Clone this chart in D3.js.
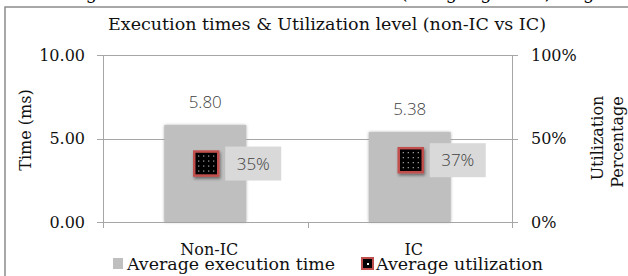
<!DOCTYPE html>
<html>
<head>
<meta charset="utf-8">
<script src="https://cdn.jsdelivr.net/npm/d3@7"></script>
<style>
  body { margin: 0; background: #fff; }
  svg { display: block; }
</style>
</head>
<body>
<svg id="chart" width="628" height="276"></svg>
<script>
var categories = ["Non-IC", "IC"];
var execTimes = [5.80, 5.38];
var utilization = [0.35, 0.37];
var timeTicks = [0, 5, 10];
var pctTicks = [0, 0.5, 1];

var svg = d3.select("#chart"),
    plotLeft = 103, plotRight = 512, plotTop = 55, plotBottom = 222;

var serif = "'DejaVu Serif', 'Liberation Serif', serif";
var sans = "'Open Sans', 'DejaVu Sans', sans-serif";

var defs = svg.append("defs");
var blur = defs.append("filter").attr("id", "barShadow")
    .attr("x", "-10%").attr("y", "-10%").attr("width", "120%").attr("height", "120%");
blur.append("feDropShadow").attr("dx", 0).attr("dy", 0).attr("stdDeviation", 1.5)
    .attr("flood-color", "#999").attr("flood-opacity", 0.8);
var mshadow = defs.append("filter").attr("id", "markShadow")
    .attr("x", "-30%").attr("y", "-30%").attr("width", "170%").attr("height", "170%");
mshadow.append("feDropShadow").attr("dx", 1).attr("dy", 2).attr("stdDeviation", 1.8)
    .attr("flood-color", "#000").attr("flood-opacity", 0.45);
var pat = defs.append("pattern").attr("id", "dots").attr("patternUnits", "userSpaceOnUse")
    .attr("width", 5).attr("height", 5);
pat.append("rect").attr("width", 5).attr("height", 5).attr("fill", "#000");
pat.append("rect").attr("x", 2).attr("y", 2).attr("width", 1).attr("height", 1).attr("fill", "#fff");

// caption line from the page above (cut off, only descenders show)
svg.append("text").attr("x", 314).attr("y", -1).attr("text-anchor", "middle")
    .style("font-family", serif).style("font-size", "18px").attr("fill", "#000")
    .text("Figure 4. Average execution times and utilization (using big tasks, single thread)");

// frame
svg.append("rect").attr("x", 5).attr("y", 7).attr("width", 640).attr("height", 290)
    .attr("fill", "none").attr("stroke", "#8c8c8c").attr("stroke-width", 1.5);

var x = d3.scaleBand().domain(categories).range([plotLeft, plotRight])
    .paddingInner(0.6).paddingOuter(0.3);
var y = d3.scaleLinear().domain([0, 10]).range([plotBottom, plotTop]);
var y2 = d3.scaleLinear().domain([0, 1]).range([plotBottom, plotTop]);

var lineColor = "#a6a6a6";

// gridlines
svg.append("g").selectAll("line").data(timeTicks).join("line")
    .attr("x1", plotLeft - 6).attr("x2", plotRight + 6)
    .attr("y1", function(d) { return Math.round(y(d)) + 0.5; })
    .attr("y2", function(d) { return Math.round(y(d)) + 0.5; })
    .attr("stroke", lineColor);

// left axis
var gl = svg.append("g").attr("transform", "translate(" + plotLeft + ",0)")
    .call(d3.axisLeft(y).tickValues(timeTicks).tickFormat(d3.format(".2f")).tickSize(0).tickPadding(18));
gl.select(".domain").remove();
gl.selectAll("text").style("font-family", serif).style("font-size", "16px").attr("fill", "#111");

// right axis
var gr = svg.append("g").attr("transform", "translate(" + plotRight + ",0)")
    .call(d3.axisRight(y2).tickValues(pctTicks).tickFormat(d3.format(".0%")).tickSize(0).tickPadding(19));
gr.select(".domain").remove();
gr.selectAll("text").style("font-family", serif).style("font-size", "16px").attr("fill", "#111");

// vertical axis lines + category separators
svg.append("g").selectAll("line").data([plotLeft, (plotLeft + plotRight) / 2, plotRight]).join("line")
    .attr("x1", function(d) { return Math.round(d) + 0.5; })
    .attr("x2", function(d) { return Math.round(d) + 0.5; })
    .attr("y1", function(d, i) { return i == 1 ? plotBottom : plotTop; })
    .attr("y2", plotBottom + 6)
    .attr("stroke", lineColor);

// bars
svg.append("g").selectAll("rect").data(execTimes).join("rect")
    .attr("x", function(d, i) { return x(categories[i]); })
    .attr("y", function(d) { return y(d); })
    .attr("width", x.bandwidth())
    .attr("height", function(d) { return y(0) - y(d); })
    .attr("fill", "#bfbfbf")
    .attr("filter", "url(#barShadow)");

// bar value labels
svg.append("g").selectAll("text").data(execTimes).join("text")
    .attr("x", function(d, i) { return x(categories[i]) + x.bandwidth() / 2; })
    .attr("y", function(d) { return y(d) - 17; })
    .attr("text-anchor", "middle")
    .style("font-family", sans).style("font-size", "17px").style("font-weight", 300)
    .attr("fill", "#404040")
    .text(function(d) { return d.toFixed(2); });

// utilization markers
var ms = 24;
var mk = svg.append("g").selectAll("g").data(utilization).join("g")
    .attr("transform", function(d, i) {
      return "translate(" + (x(categories[i]) + x.bandwidth() / 2 + 1) + "," + y2(d) + ")";
    });
mk.append("rect")
    .attr("x", -ms / 2).attr("y", -ms / 2).attr("width", ms).attr("height", ms)
    .attr("fill", "url(#dots)").attr("stroke", "#c0504d").attr("stroke-width", 2.5)
    .attr("filter", "url(#markShadow)");
mk.append("rect")
    .attr("x", 19).attr("y", -17).attr("width", 56).attr("height", 34)
    .attr("fill", "#d9d9d9");
mk.append("text")
    .attr("x", 47).attr("y", 0).attr("dy", "0.36em")
    .attr("text-anchor", "middle")
    .style("font-family", sans).style("font-size", "17px").style("font-weight", 300)
    .attr("fill", "#404040")
    .text(function(d) { return Math.round(d * 100) + "%"; });

// category labels
svg.append("g").selectAll("text").data(categories).join("text")
    .attr("x", function(d) { return x(d) + x.bandwidth() / 2 + 4; })
    .attr("y", 255)
    .attr("text-anchor", "middle")
    .style("font-family", serif).style("font-size", "16px").attr("fill", "#111")
    .text(function(d) { return d; });

// axis titles
svg.append("text")
    .attr("transform", "translate(31,130) rotate(-90)")
    .attr("text-anchor", "middle")
    .style("font-family", serif).style("font-size", "16px").attr("fill", "#111")
    .text("Time (ms)");
svg.append("text")
    .attr("transform", "translate(603,138) rotate(-90)")
    .attr("text-anchor", "middle")
    .style("font-family", serif).style("font-size", "16px").attr("fill", "#111")
    .text("Utilization");
svg.append("text")
    .attr("transform", "translate(623,142) rotate(-90)")
    .attr("text-anchor", "middle")
    .style("font-family", serif).style("font-size", "16px").attr("fill", "#111")
    .text("Percentage");

// title
svg.append("text").attr("x", 327).attr("y", 30).attr("text-anchor", "middle")
    .attr("textLength", 438).attr("lengthAdjust", "spacingAndGlyphs")
    .style("font-family", serif).style("font-size", "16px").attr("fill", "#111")
    .text("Execution times & Utilization level (non-IC vs IC)");

// legend
var lg = svg.append("g");
lg.append("rect").attr("x", 113).attr("y", 258).attr("width", 10).attr("height", 11).attr("fill", "#bfbfbf");
lg.append("text").attr("x", 127).attr("y", 270)
    .attr("textLength", 208).attr("lengthAdjust", "spacingAndGlyphs")
    .style("font-family", serif).style("font-size", "16px").attr("fill", "#111")
    .text("Average execution time");
lg.append("rect").attr("x", 362).attr("y", 258).attr("width", 11).attr("height", 11)
    .attr("fill", "#000").attr("stroke", "#c0504d").attr("stroke-width", 2);
lg.append("rect").attr("x", 367).attr("y", 263).attr("width", 2).attr("height", 2).attr("fill", "#fff");
lg.append("text").attr("x", 376).attr("y", 270)
    .attr("textLength", 167).attr("lengthAdjust", "spacingAndGlyphs")
    .style("font-family", serif).style("font-size", "16px").attr("fill", "#111")
    .text("Average utilization");
</script>
</body>
</html>
